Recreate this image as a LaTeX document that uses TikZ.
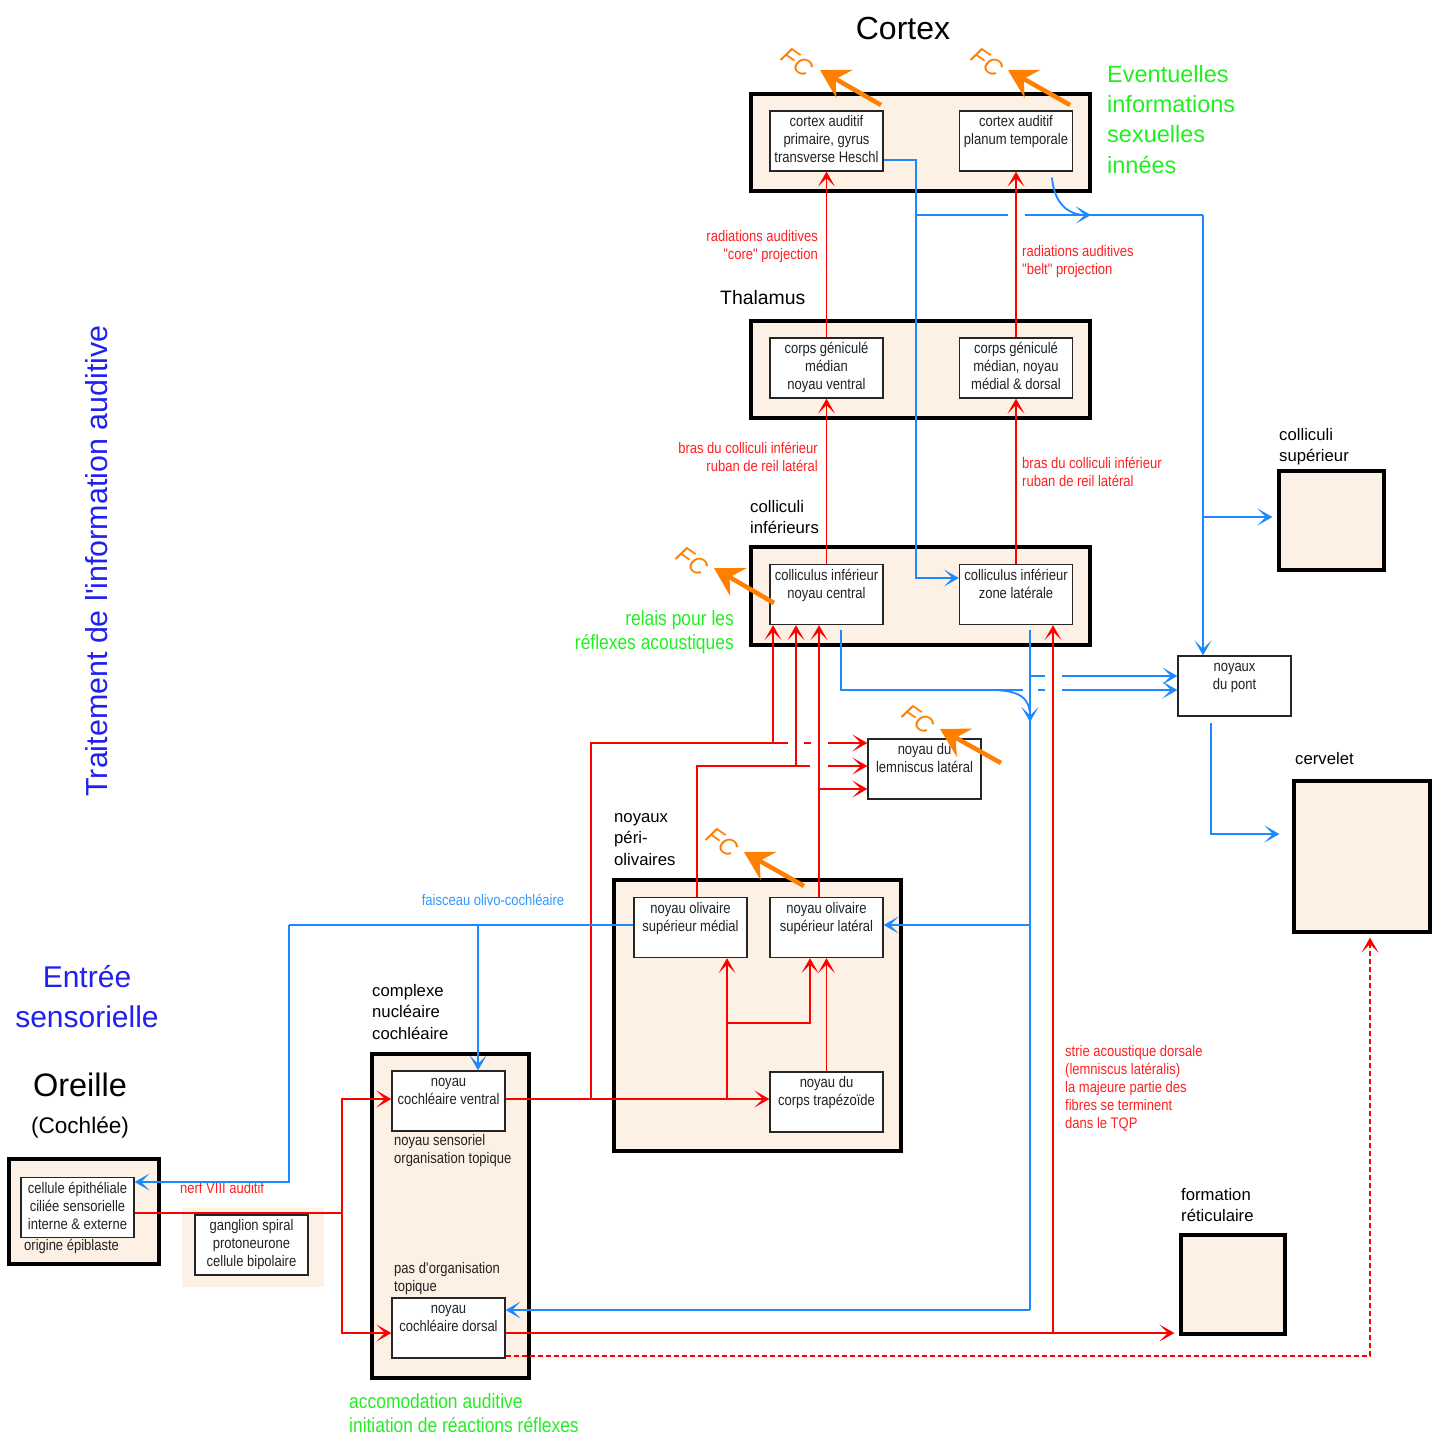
\documentclass[tikz,border=0pt]{standalone}
\usepackage{fontspec}
\setmainfont{Liberation Sans}
\newfontfamily\nar{Liberation Sans}[FakeStretch=0.85]
\usetikzlibrary{arrows.meta}
\definecolor{bgc}{HTML}{FDF0E5}
\definecolor{rd}{HTML}{FF0000}
\definecolor{lrd}{HTML}{FF2020}
\definecolor{bl}{HTML}{1E88FF}
\definecolor{lbl}{HTML}{3399FF}
\definecolor{gr}{HTML}{22EE22}
\definecolor{org}{HTML}{FF8000}
\definecolor{tbl}{HTML}{2020F0}
\definecolor{txt}{HTML}{222222}
\newcommand\sml{\nar\fontsize{15.3}{18}\selectfont}
\newcommand\blk{\fontsize{16.7}{21.5}\selectfont}
\newcommand\grm{\nar\fontsize{20.5}{24.6}\selectfont}
\newcommand\grb{\fontsize{23.5}{30.3}\selectfont}
\newcommand\sst{\rule{0pt}{13.5pt}}
\newcommand\bst{\rule{0pt}{15pt}}
\newcommand\gst{\rule{0pt}{18pt}}
\newcommand\Gst{\rule{0pt}{21pt}}
\newcommand\ib[1]{\parbox[c][60pt][t]{113pt}{\centering\sml\color{txt}\rule{0pt}{15.5pt}#1}}
\newcommand\crossgap[4]{\fill[white] (#1-#3,#2-2.6) rectangle (#1+#3,#2+2.6); \draw[#4] (#1,#2-5) -- (#1,#2+5);}
\tikzset{
  outerbox/.style={draw=black, line width=3.2pt, fill=bgc, inner sep=0pt},
  innerbox/.style={draw=black!85, line width=1.3pt, fill=white, inner sep=0pt},
  rl/.style={draw=rd, line width=1.8pt},
  bll/.style={draw=bl, line width=1.8pt},
  tipv/.tip={Stealth[length=15pt,width=17pt,inset=8.5pt]},
  ra/.style={rl, -tipv},
  ba/.style={bll, -tipv},
  oa/.style={draw=org, line width=4.5pt, -{Stealth[length=28pt,width=32pt,inset=10pt]}},
  fcl/.style={text=org, font=\itshape\fontsize{24}{24}\selectfont, inner sep=0pt},
  rtxt/.style={text=lrd, font=\sml, inner sep=0pt},
  btxt/.style={text=black, font=\blk, inner sep=0pt, align=left},
  gtxt/.style={text=gr, inner sep=0pt},
  stxt/.style={text=txt, font=\sml, inner sep=0pt, align=left},
}
\begin{document}
\begin{tikzpicture}[x=1pt,y=-1pt]
\useasboundingbox (0,0) rectangle (1443,1436);

% ---------- titles ----------
\node[font=\fontsize{32}{32}\selectfont, anchor=base, inner sep=0pt] (tcortex) at (903,39.5) {Cortex};
\node[gtxt, font=\grb, anchor=north west, align=left] (tsex) at (1107,61) {\Gst Eventuelles\\informations\\sexuelles\\innées};
\node[font=\fontsize{19.4}{19.4}\selectfont, anchor=base west, inner sep=0pt] (tthal) at (720,304) {Thalamus};
\node[btxt, anchor=north west] (tcolinf) at (750,497) {\bst colliculi\\inférieurs};
\node[gtxt, font=\grm, anchor=north east, align=right] (trelais) at (734,607) {\gst relais pour les\\réflexes acoustiques};
\node[btxt, anchor=north west] (tperi) at (614,807) {\bst noyaux\\péri-\\olivaires};
\node[gtxt, font=\grm, anchor=north west, align=left] (tloc) at (625,962) {\gst localisation\\de la\\source\\sonore};
\node[btxt, anchor=north west] (tcompl) at (372,981) {\bst complexe\\nucléaire\\cochléaire};
\node[gtxt, font=\grm, anchor=north west, align=left] (tacc) at (349,1390) {\gst accomodation auditive\\initiation de réactions réflexes};
\node[btxt, anchor=north west] (tcolsup) at (1279,425) {\bst colliculi\\supérieur};
\node[btxt, anchor=base west] (tcerv) at (1295,764) {cervelet};
\node[btxt, anchor=north west] (tform) at (1181,1185) {\bst formation\\réticulaire};
\node[text=tbl, font=\fontsize{30.4}{30.4}\selectfont, rotate=90, inner sep=0pt] (ttrait) at (97,561) {Traitement de l\textquotesingle information auditive};
\node[text=tbl, font=\fontsize{30}{40}\selectfont, anchor=north, align=center, inner sep=0pt] (tentree) at (87,960) {\rule{0pt}{27pt}Entrée\\sensorielle};
\node[font=\fontsize{32.5}{32.5}\selectfont, anchor=base, inner sep=0pt] (toreille) at (80,1096) {Oreille};
\node[font=\fontsize{22.6}{22.6}\selectfont, anchor=base, inner sep=0pt] (tcoch) at (80,1133) {(Cochlée)};

% ---------- outer boxes ----------
\node[outerbox, minimum width=339pt, minimum height=97pt] (cortex) at (920.5,142.5) {};
\node[outerbox, minimum width=339pt, minimum height=97pt] (thal) at (920.5,369.5) {};
\node[outerbox, minimum width=339pt, minimum height=98pt] (colinf) at (920.5,596) {};
\node[outerbox, minimum width=287pt, minimum height=271pt] (olive) at (757.5,1015.5) {};
\node[outerbox, minimum width=157pt, minimum height=324pt] (compl) at (450.5,1216) {};
\node[outerbox, minimum width=150pt, minimum height=105pt] (oreille) at (84,1211.5) {};
\node[draw=none, fill=bgc, minimum width=142pt, minimum height=79pt, inner sep=0pt] (gangbg) at (253,1247.5) {};
\node[outerbox, minimum width=105pt, minimum height=99pt] (cs) at (1331.5,520.5) {};
\node[outerbox, minimum width=136pt, minimum height=151pt] (cv) at (1362,856.5) {};
\node[outerbox, minimum width=104pt, minimum height=99pt] (fr) at (1233,1284.5) {};

% ---------- inner boxes ----------
\node[innerbox] (cx1) at (826.5,141) {\ib{cortex auditif\\primaire, gyrus\\transverse Heschl}};
\node[innerbox] (cx2) at (1016,141) {\ib{cortex auditif\\planum temporale}};
\node[innerbox] (th1) at (826.5,368) {\ib{corps géniculé\\médian\\noyau ventral}};
\node[innerbox] (th2) at (1016,368) {\ib{corps géniculé\\médian, noyau\\médial \& dorsal}};
\node[innerbox] (cc1) at (826.5,594.5) {\ib{colliculus inférieur\\noyau central}};
\node[innerbox] (cc2) at (1016,594.5) {\ib{colliculus inférieur\\zone latérale}};
\node[innerbox] (lem) at (924.5,769) {\ib{noyau du\\lemniscus latéral}};
\node[innerbox] (np) at (1234.5,686) {\ib{noyaux\\du pont}};
\node[innerbox] (nosm) at (690.5,927.5) {\ib{noyau olivaire\\supérieur médial}};
\node[innerbox] (nosl) at (826.5,927.5) {\ib{noyau olivaire\\supérieur latéral}};
\node[innerbox] (nct) at (826.5,1102) {\ib{noyau du\\corps trapézoïde}};
\node[innerbox] (ncv) at (448.5,1101) {\ib{noyau\\cochléaire ventral}};
\node[innerbox] (ncd) at (448.5,1328) {\ib{noyau\\cochléaire dorsal}};
\node[innerbox] (cell) at (77.5,1207.5) {\ib{cellule épithéliale\\ciliée sensorielle\\interne \& externe}};
\node[innerbox] (gang) at (251.5,1245) {\ib{ganglion spiral\\protoneurone\\cellule bipolaire}};

% ---------- small black texts ----------
\node[stxt, anchor=north west] (tsens) at (394,1132) {\sst noyau sensoriel\\organisation topique};
\node[stxt, anchor=north west] (tpas) at (394,1260) {\sst pas d\textquotesingle organisation\\topique};
\node[stxt, anchor=base west] (tepi) at (24,1250.5) {origine épiblaste};

% ---------- red labels ----------
\node[rtxt, anchor=north east, align=right] (lcore) at (818,228) {\sst radiations auditives\\"core" projection};
\node[rtxt, anchor=north west, align=left] (lbelt) at (1022,243) {\sst radiations auditives\\"belt" projection};
\node[rtxt, anchor=north east, align=right] (lbras1) at (818,440) {\sst bras du colliculi inférieur\\ruban de reil latéral};
\node[rtxt, anchor=north west, align=left] (lbras2) at (1022,455) {\sst bras du colliculi inférieur\\ruban de reil latéral};
\node[rtxt, anchor=north west, align=left] (lstrie) at (1065,1043) {\sst strie acoustique dorsale\\(lemniscus latéralis)\\la majeure partie des\\fibres se terminent\\dans le TQP};
\node[rtxt, anchor=base west] (lnerf) at (180,1193.5) {nerf VIII auditif};
\node[text=lbl, font=\sml, inner sep=0pt, anchor=base] (lfais) at (493,905.5) {faisceau olivo-cochléaire};

% ---------- junction coordinates ----------
\coordinate (jA) at (591,1099);
\coordinate (jB) at (727,1099);
\coordinate (jC) at (342,1213);
\coordinate (jD) at (916,215);
\coordinate (jE) at (1203,517);
\coordinate (jF) at (990,690);
\coordinate (jG) at (1030,676);
\coordinate (jH) at (1030,925);
\coordinate (jI) at (1030,1310);
\coordinate (jJ) at (1053,1333);
\coordinate (jK) at (289,925);
\coordinate (jL) at (478,925);

% ---------- red connectors ----------
\draw[ra] (th1.north) -- (cx1.south);
\draw[ra] (th2.north) -- (cx2.south);
\draw[ra] (cc1.north) -- (th1.south);
\draw[ra] (cc2.north) -- (th2.south);
\draw[ra] (ncv.east |- jA) -- (nct.west |- jA);
\draw[ra] (jA) -- (591,743) -- (773,743) -- (773,0 |- cc1.south);
\draw[ra] (773,743) -- (lem.west |- 0,743);
\draw[ra] (697,0 |- nosm.north) -- (697,766) -- (796,766) -- (796,0 |- cc1.south);
\draw[ra] (796,766) -- (lem.west |- 0,766);
\draw[ra] (819,0 |- nosl.north) -- (819,0 |- cc1.south);
\draw[ra] (819,789) -- (lem.west |- 0,789);
\draw[ra] (jB) -- (727,0 |- nosm.south);
\draw[ra] (727,1023) -- (810,1023) -- (810,0 |- nosl.south);
\draw[ra] (nct.north) -- (nosl.south);
\draw[rl] (cell.east |- jC) -- (jC);
\draw[ra] (jC) |- (ncv.west |- jA);
\draw[ra] (jC) |- (ncd.west |- 0,1333);
\draw[ra, shorten >=5pt] (ncd.east |- jJ) -- (fr.west |- jJ);
\draw[ra] (jJ) -- (1053,0 |- cc2.south);
\draw[rl, dash pattern=on 5pt off 3pt, -tipv, shorten >=4pt] (ncd.east |- 0,1356) -- (1370,1356) -- (1370,0 |- cv.south);

% ---------- blue connectors ----------
\draw[ba] (cx1.east |- 0,160) -- (916,160) -- (916,578) -- (cc2.west |- 0,578);
\draw[bll] (jD) -- (1203,215);
\draw[ba] (1203,215) -- (1203,0 |- np.north);
\draw[ba, shorten >=5pt] (jE) -- (cs.west |- jE);
\draw[ba] (1052,0 |- cx2.south) ++(0,6) .. controls (1054,203) and (1068,215) .. (1091,215);
\draw[ba, shorten >=13pt] (1211,0 |- np.south) ++(0,6) -- (1211,834) -- (cv.west |- 0,834);
\draw[bll] (841,0 |- cc1.south) ++(0,5) -- (841,690) -- (jF);
\draw[ba] (jF) .. controls (1020,690) and (1030,698) .. (1030,722);
\draw[ba] (jF) -- (np.west |- jF);
\draw[bll] (1030,0 |- cc2.south) ++(0,5) -- (jI);
\draw[ba] (jI) -- (ncd.east |- jI);
\draw[ba] (jH) -- (nosl.east |- jH);
\draw[ba] (jG) -- (np.west |- jG);
\draw[bll] (nosm.west |- jK) -- (jK);
\draw[ba] (jK) -- (289,1182) -- (cell.east |- 0,1182);
\draw[ba] (jL) -- (478,0 |- ncv.north);

% ---------- crossing gaps ----------
\crossgap{796}{743}{8}{rl}
\crossgap{819}{743}{8.5}{rl}
\crossgap{819}{766}{9}{rl}
\crossgap{1016}{215}{8.5}{rl}
\crossgap{1053}{676}{8.5}{rl}
\crossgap{1053}{690}{8.5}{rl}
\crossgap{1030}{690}{7.5}{bll}

% ---------- FC arrows ----------
\draw[oa] (881,105) -- (820,70);
\node[fcl, rotate=-35] (fc1) at (797,62) {FC};
\draw[oa] (1070,105) -- (1008,70);
\node[fcl, rotate=-35] (fc2) at (987,62) {FC};
\draw[oa] (774,603) -- (714,568);
\node[fcl, rotate=-35] (fc3) at (692,561) {FC};
\draw[oa] (1001,763) -- (940,729);
\node[fcl, rotate=-35] (fc4) at (918,719) {FC};
\draw[oa] (804,886) -- (744,852);
\node[fcl, rotate=-35] (fc5) at (722,842) {FC};
\end{tikzpicture}
\end{document}
